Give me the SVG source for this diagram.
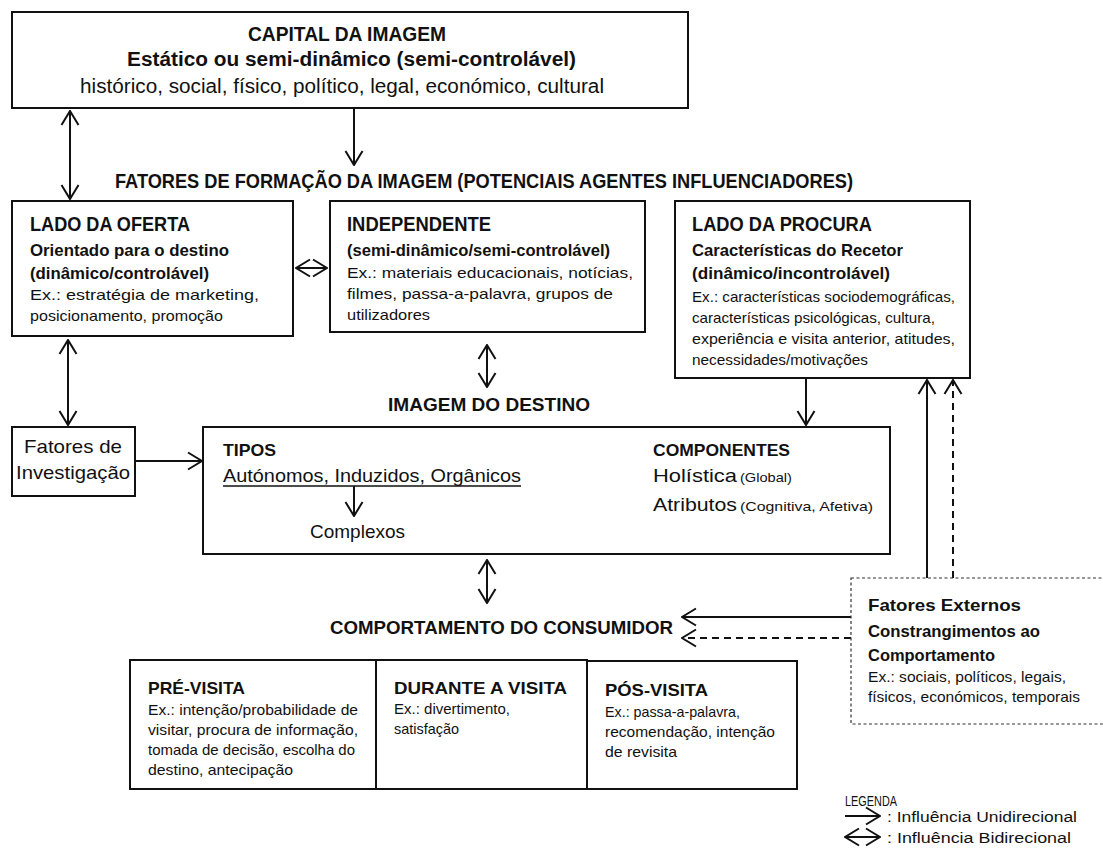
<svg xmlns="http://www.w3.org/2000/svg" width="1103" height="859" viewBox="0 0 1103 859">
  <defs>
    <style>
      text { font-family: "Liberation Sans", Arial, sans-serif; fill: #111; }
      .b { font-weight: bold; }
      .box { fill: #fff; stroke: #111; stroke-width: 2; }
      .dbox { fill: #fff; stroke: #333; stroke-width: 1.2; stroke-dasharray: 3 2.5; }
      .ln { fill: none; stroke: #111; stroke-width: 2; }
      .dash { stroke-dasharray: 7 5; }
      .h1 { font-size: 20px; }
      .h2 { font-size: 17px; }
      .h3 { font-size: 16px; }
      .ex { font-size: 14.5px; }
      .m { font-size: 19px; }
      .sm { font-size: 13px; }
      .lg { font-size: 14px; }
    </style>
    <marker id="ah" viewBox="0 0 16 20" refX="15" refY="10" markerWidth="16" markerHeight="20" orient="auto-start-reverse" markerUnits="userSpaceOnUse">
      <path d="M1,1.5 L15,10 L1,18.5" fill="none" stroke="#111" stroke-width="2"/>
    </marker>
  </defs>

  <!-- connectors between the blocks -->
  <g id="connectors">
    <line class="ln" x1="70" y1="111" x2="70" y2="199" marker-start="url(#ah)" marker-end="url(#ah)"/>
    <line class="ln" x1="354" y1="108" x2="354" y2="165" marker-end="url(#ah)"/>
    <line class="ln" x1="296" y1="268" x2="327" y2="268" marker-start="url(#ah)" marker-end="url(#ah)"/>
    <line class="ln" x1="487" y1="345" x2="487" y2="387" marker-start="url(#ah)" marker-end="url(#ah)"/>
    <line class="ln" x1="68" y1="340" x2="68" y2="425" marker-start="url(#ah)" marker-end="url(#ah)"/>
    <line class="ln" x1="135" y1="461" x2="202" y2="461" marker-end="url(#ah)"/>
    <line class="ln" x1="806" y1="378" x2="806" y2="425" marker-end="url(#ah)"/>
    <line class="ln" x1="927" y1="578" x2="927" y2="380" marker-end="url(#ah)"/>
    <line class="ln dash" x1="953" y1="578" x2="953" y2="380" marker-end="url(#ah)"/>
    <line class="ln" x1="487" y1="560" x2="487" y2="603" marker-start="url(#ah)" marker-end="url(#ah)"/>
    <line class="ln" x1="851" y1="617" x2="682" y2="617" marker-end="url(#ah)"/>
    <line class="ln dash" x1="851" y1="638" x2="682" y2="638" marker-end="url(#ah)"/>
  </g>

  <!-- image capital -->
  <g id="capital">
    <rect class="box" x="12" y="12" width="676" height="96"/>
    <text class="b h1" x="347" y="41" text-anchor="middle" textLength="198" lengthAdjust="spacingAndGlyphs">CAPITAL DA IMAGEM</text>
    <text class="b h1" x="127" y="66" textLength="449" lengthAdjust="spacingAndGlyphs">Estático ou semi-dinâmico (semi-controlável)</text>
    <text class="h1" x="80" y="93" textLength="524" lengthAdjust="spacingAndGlyphs">histórico, social, físico, político, legal, económico, cultural</text>
  </g>

  <g id="formation-title">
    <text class="b h1" x="115" y="188" textLength="738" lengthAdjust="spacingAndGlyphs">FATORES DE FORMAÇÃO DA IMAGEM (POTENCIAIS AGENTES INFLUENCIADORES)</text>
  </g>

  <!-- supply side -->
  <g id="supply">
    <rect class="box" x="12" y="201" width="281" height="135"/>
    <text class="b h1" x="30" y="231" textLength="160" lengthAdjust="spacingAndGlyphs">LADO DA OFERTA</text>
    <text class="b h2" x="30" y="256" textLength="199" lengthAdjust="spacingAndGlyphs">Orientado para o destino</text>
    <text class="b h2" x="30" y="279" textLength="179" lengthAdjust="spacingAndGlyphs">(dinâmico/controlável)</text>
    <text class="ex" x="30" y="300" textLength="229" lengthAdjust="spacingAndGlyphs">Ex.: estratégia de marketing,</text>
    <text class="ex" x="30" y="321" textLength="193" lengthAdjust="spacingAndGlyphs">posicionamento, promoção</text>
  </g>

  <!-- independent sources -->
  <g id="independent">
    <rect class="box" x="330" y="201" width="315" height="131"/>
    <text class="b h1" x="347" y="231" textLength="144" lengthAdjust="spacingAndGlyphs">INDEPENDENTE</text>
    <text class="b h2" x="347" y="256" textLength="263" lengthAdjust="spacingAndGlyphs">(semi-dinâmico/semi-controlável)</text>
    <text class="ex" x="347" y="278" textLength="286" lengthAdjust="spacingAndGlyphs">Ex.: materiais educacionais, notícias,</text>
    <text class="ex" x="347" y="299" textLength="266" lengthAdjust="spacingAndGlyphs">filmes, passa-a-palavra, grupos de</text>
    <text class="ex" x="347" y="320" textLength="83" lengthAdjust="spacingAndGlyphs">utilizadores</text>
  </g>

  <!-- demand side -->
  <g id="demand">
    <rect class="box" x="675" y="201" width="295" height="177"/>
    <text class="b h1" x="692" y="231" textLength="180" lengthAdjust="spacingAndGlyphs">LADO DA PROCURA</text>
    <text class="b h2" x="692" y="256" textLength="211" lengthAdjust="spacingAndGlyphs">Características do Recetor</text>
    <text class="b h2" x="692" y="279" textLength="198" lengthAdjust="spacingAndGlyphs">(dinâmico/incontrolável)</text>
    <text class="ex" x="692" y="302" textLength="263" lengthAdjust="spacingAndGlyphs">Ex.: características sociodemográficas,</text>
    <text class="ex" x="692" y="323" textLength="243" lengthAdjust="spacingAndGlyphs">características psicológicas, cultura,</text>
    <text class="ex" x="692" y="344" textLength="263" lengthAdjust="spacingAndGlyphs">experiência e visita anterior, atitudes,</text>
    <text class="ex" x="692" y="365" textLength="176" lengthAdjust="spacingAndGlyphs">necessidades/motivações</text>
  </g>

  <g id="destination-title">
    <text class="b m" x="388" y="411" textLength="202" lengthAdjust="spacingAndGlyphs">IMAGEM DO DESTINO</text>
  </g>

  <!-- research factors -->
  <g id="research">
    <rect class="box" x="12" y="427" width="123" height="69"/>
    <text class="m" x="73" y="453" text-anchor="middle" textLength="98" lengthAdjust="spacingAndGlyphs">Fatores de</text>
    <text class="m" x="73" y="479" text-anchor="middle" textLength="114" lengthAdjust="spacingAndGlyphs">Investigação</text>
  </g>

  <!-- destination image -->
  <g id="destination-image">
    <rect class="box" x="203" y="427" width="687" height="127"/>
    <text class="b h2" x="223" y="456" textLength="53" lengthAdjust="spacingAndGlyphs">TIPOS</text>
    <text class="m" x="223" y="482" textLength="298" lengthAdjust="spacingAndGlyphs">Autónomos, Induzidos, Orgânicos</text>
    <line x1="223" y1="486" x2="521" y2="486" stroke="#111" stroke-width="1.3"/>
    <line class="ln" x1="354" y1="486" x2="354" y2="516" marker-end="url(#ah)"/>
    <text class="m" x="310" y="538" textLength="95" lengthAdjust="spacingAndGlyphs">Complexos</text>
    <text class="b h2" x="653" y="456" textLength="137" lengthAdjust="spacingAndGlyphs">COMPONENTES</text>
    <text class="m" x="653" y="482"><tspan textLength="84" lengthAdjust="spacingAndGlyphs">Holística</tspan><tspan class="sm" x="740" textLength="52" lengthAdjust="spacingAndGlyphs">(Global)</tspan></text>
    <text class="m" x="653" y="511"><tspan textLength="84" lengthAdjust="spacingAndGlyphs">Atributos</tspan><tspan class="sm" x="740" textLength="133" lengthAdjust="spacingAndGlyphs">(Cognitiva, Afetiva)</tspan></text>
  </g>

  <g id="behaviour-title">
    <text class="b m" x="330" y="634" textLength="343" lengthAdjust="spacingAndGlyphs">COMPORTAMENTO DO CONSUMIDOR</text>
  </g>

  <!-- external factors -->
  <g id="external">
    <rect class="dbox" x="851" y="578" width="262" height="146"/>
    <text class="b h2" x="868" y="611" textLength="153" lengthAdjust="spacingAndGlyphs">Fatores Externos</text>
    <text class="b h3" x="868" y="637" textLength="172" lengthAdjust="spacingAndGlyphs">Constrangimentos ao</text>
    <text class="b h3" x="868" y="661" textLength="127" lengthAdjust="spacingAndGlyphs">Comportamento</text>
    <text class="ex" x="868" y="682" textLength="198" lengthAdjust="spacingAndGlyphs">Ex.: sociais, políticos, legais,</text>
    <text class="ex" x="868" y="702" textLength="212" lengthAdjust="spacingAndGlyphs">físicos, económicos, temporais</text>
  </g>

  <!-- visit stages -->
  <g id="pre-visit">
    <rect class="box" x="130" y="660" width="246" height="129"/>
    <text class="b h2" x="148" y="694" textLength="97" lengthAdjust="spacingAndGlyphs">PRÉ-VISITA</text>
    <text class="ex" x="148" y="715" textLength="210" lengthAdjust="spacingAndGlyphs">Ex.: intenção/probabilidade de</text>
    <text class="ex" x="148" y="735" textLength="210" lengthAdjust="spacingAndGlyphs">visitar, procura de informação,</text>
    <text class="ex" x="148" y="755" textLength="207" lengthAdjust="spacingAndGlyphs">tomada de decisão, escolha do</text>
    <text class="ex" x="148" y="775" textLength="145" lengthAdjust="spacingAndGlyphs">destino, antecipação</text>
  </g>
  <g id="during-visit">
    <rect class="box" x="376" y="660" width="211" height="129"/>
    <text class="b h2" x="394" y="694" textLength="173" lengthAdjust="spacingAndGlyphs">DURANTE A VISITA</text>
    <text class="ex" x="394" y="714" textLength="116" lengthAdjust="spacingAndGlyphs">Ex.: divertimento,</text>
    <text class="ex" x="394" y="734" textLength="65" lengthAdjust="spacingAndGlyphs">satisfação</text>
  </g>
  <g id="post-visit">
    <rect class="box" x="587" y="661" width="210" height="128"/>
    <text class="b h2" x="605" y="696" textLength="103" lengthAdjust="spacingAndGlyphs">PÓS-VISITA</text>
    <text class="ex" x="605" y="717" textLength="135" lengthAdjust="spacingAndGlyphs">Ex.: passa-a-palavra,</text>
    <text class="ex" x="605" y="737" textLength="170" lengthAdjust="spacingAndGlyphs">recomendação, intenção</text>
    <text class="ex" x="605" y="757" textLength="72" lengthAdjust="spacingAndGlyphs">de revisita</text>
  </g>

  <!-- legend -->
  <g id="legend">
    <text class="lg" x="845" y="806" textLength="52" lengthAdjust="spacingAndGlyphs">LEGENDA</text>
    <line class="ln" x1="845" y1="816" x2="880" y2="816" marker-end="url(#ah)"/>
    <text class="lg" x="887" y="822" textLength="190" lengthAdjust="spacingAndGlyphs">: Influência Unidirecional</text>
    <line class="ln" x1="845" y1="837" x2="880" y2="837" marker-start="url(#ah)" marker-end="url(#ah)"/>
    <text class="lg" x="887" y="843" textLength="184" lengthAdjust="spacingAndGlyphs">: Influência Bidirecional</text>
  </g>
</svg>
